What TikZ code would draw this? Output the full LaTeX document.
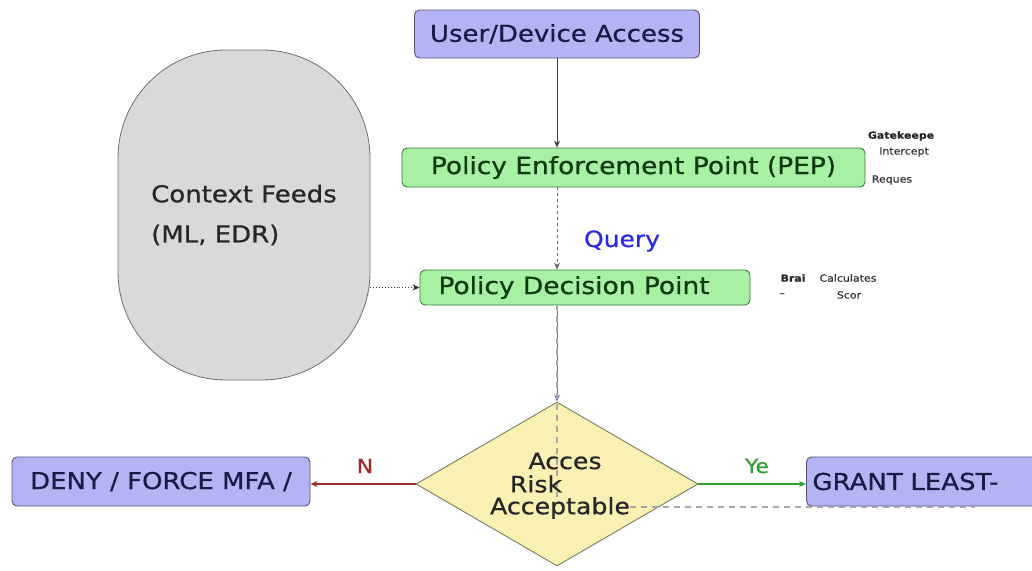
\documentclass[tikz,border=0pt]{standalone}
\usepackage{fontspec}
\setmainfont[FakeStretch=1.12,FakeBold=0.6]{DejaVu Sans}
\usetikzlibrary{arrows.meta,shapes.geometric}
\definecolor{lavfill}{HTML}{B4B4F5}
\definecolor{lavdraw}{HTML}{55557A}
\definecolor{navytext}{HTML}{1A1A45}
\definecolor{grnfill}{HTML}{A8F0A4}
\definecolor{grndraw}{HTML}{3C7A3C}
\definecolor{grntext}{HTML}{0E3A0E}
\definecolor{ctxfill}{HTML}{D9D9D9}
\definecolor{ctxdraw}{HTML}{707070}
\definecolor{diafill}{HTML}{F9F0B4}
\definecolor{diadraw}{HTML}{7A7A60}
\definecolor{noarrow}{HTML}{A02828}
\definecolor{yesarrow}{HTML}{34A034}
\definecolor{querycol}{HTML}{2A2AE0}
\definecolor{linkblue}{HTML}{6A6AC0}
\tikzset{
  bluebox/.style={draw=lavdraw, fill=lavfill, rounded corners=5pt, line width=0.9pt, text=navytext, font=\fontsize{23.2}{27}\selectfont, inner sep=0pt},
  greenbox/.style={draw=grndraw, fill=grnfill, rounded corners=5pt, line width=0.9pt, text=grntext, font=\fontsize{23.6}{27}\selectfont, inner sep=0pt},
  tinytext/.style={font=\fontsize{9.8}{12}\selectfont, text=black!80, inner sep=0pt},
  tinybold/.style={font=\fontsize{9.8}{12}\selectfont\bfseries, text=black!85, inner sep=0pt},
  difftext/.style={font=\fontsize{22.5}{26}\selectfont, text=black!85, inner sep=0pt},
  tip/.style={-{Stealth[length=7pt,width=6pt]}},
}
\begin{document}
\begin{tikzpicture}[x=1pt,y=-1pt]
\useasboundingbox (0,0) rectangle (1032,570);
% nodes
\node[bluebox, minimum width=285, minimum height=48] (user) at (557,34) {User/Device Access};
\node[greenbox, minimum width=463, minimum height=39] (pep) at (633.5,167.5) {Policy Enforcement Point (PEP)};
\node[greenbox, minimum width=330, minimum height=35] (pdp) at (585,287.5) {\hspace*{-22pt}Policy Decision Point};
\node[draw=ctxdraw, fill=ctxfill, line width=0.8pt, rounded corners=108pt, minimum width=252, minimum height=330, inner sep=0pt, align=left, font=\fontsize{23.2}{40}\selectfont, text=black!85] (ctx) at (244,215) {Context Feeds\\(ML, EDR)};
\node[diamond, draw=diadraw, fill=diafill, line width=0.9pt, minimum width=282, minimum height=164, inner sep=0pt] (dia) at (557,484) {};
\node[bluebox, minimum width=298, minimum height=49] (deny) at (161,481.5) {DENY / FORCE MFA /};
\node[bluebox, minimum width=240, minimum height=49, text width=228, align=left, inner xsep=6pt, anchor=west] (grant) at (806,481.5) {GRANT LEAST-};
\coordinate (dend) at (975,507);
% connectors
\draw[tip, draw=black!75, line width=1pt] (user.south) -- (user.south |- pep.north);
\draw[tip, draw=gray!80!black, dashed, line width=1pt] (user.south |- pep.south) -- (user.south |- pdp.north);
\draw[tip, draw=linkblue, line width=1pt] (dia.north |- pdp.south) -- (dia.north);
\draw[draw=gray!70, line width=1.2pt, dash pattern=on 6pt off 5pt] (dia.north |- pdp.south) |- (dend);
\draw[tip, dotted, draw=black!80, line width=0.9pt] (ctx.east |- pdp.west) -- (pdp.west);
\draw[tip, draw=noarrow, line width=1.2pt] (dia.west) -- (dia.west -| deny.east);
\draw[tip, draw=yesarrow, line width=1.2pt] (dia.east) -- (dia.east -| grant.west);
% diamond text
\node[difftext] (t1) at (565,461) {Acces};
\node[difftext] (t2) at (536,484) {Risk};
\node[difftext, fill=diafill, inner sep=0.5pt] (t3) at (560,508) {Acceptable};
% labels
\node[font=\fontsize{22.3}{26}\selectfont, text=querycol] (query) at (622,241) {Query};
\node[font=\fontsize{19.6}{23}\selectfont, text=noarrow] (nlab) at (365,466) {N};
\node[font=\fontsize{19.6}{23}\selectfont, text=yesarrow] (ylab) at (757,466) {Ye};
% side notes
\node[tinybold] (gk) at (901,136) {Gatekeepe};
\node[tinytext] (ic) at (904,152) {Intercept};
\node[tinytext] (rq) at (892,180) {Reques};
\node[tinybold] (br) at (793,278) {Brai};
\node[tinytext] (calc) at (848,278) {Calculates};
\node[tinytext] (dash) at (782,295) {--};
\node[tinytext] (sc) at (849,295) {Scor};
\end{tikzpicture}
\end{document}
